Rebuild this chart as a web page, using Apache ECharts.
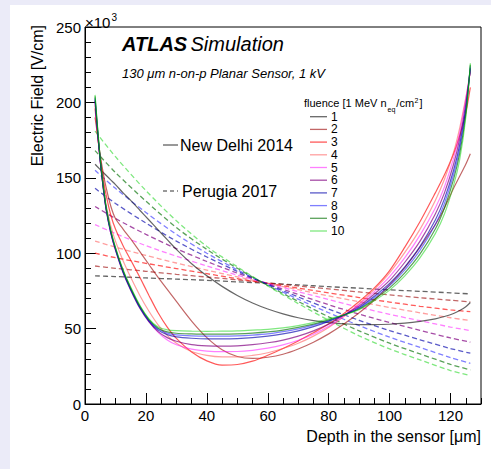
<!DOCTYPE html>
<html><head><meta charset="utf-8">
<script src="https://cdn.jsdelivr.net/npm/echarts@6/dist/echarts.min.js"></script>
<style>
html,body{margin:0;padding:0;background:#ebebf8;width:491px;height:469px;overflow:hidden}
#c{position:absolute;left:10px;top:5px;width:481px;height:464px;background:#fff}
</style></head>
<body><div id="c"></div>
<script>
// ---- data (x in um, E in 10^3 V/cm) ----
const solidX = [3.3, 4, 5, 6, 7, 8.5, 10, 12.5, 15, 18, 21, 24, 27, 30, 35, 40, 45, 50, 55, 60, 65, 70, 75, 80, 85, 90, 95, 100, 105, 110, 115, 118, 121, 123, 125, 126.5];
const delhi1  = [159, 157.5, 155.5, 153.5, 151.5, 148.5, 145.5, 140, 135, 128.5, 122, 115.5, 109, 102.5, 93, 85, 78, 72, 67, 63, 59.8, 57.2, 55.3, 54, 53.2, 52.7, 52.6, 52.9, 53.6, 54.8, 56.5, 58, 60, 62, 64.5, 67.3];
const delhi2  = [190, 180, 165, 153, 143, 131, 123, 116, 109.5, 101, 92.5, 84, 76, 68, 55, 44, 36, 31.5, 30.2, 31, 33, 36.5, 41, 46.5, 53, 60.5, 69, 79, 90.5, 104, 119, 130, 143, 151, 159, 166];
const delhi3  = [196, 181, 163, 149, 138, 125, 116, 105, 95.5, 84, 72, 60.5, 51, 43.5, 34.5, 28.6, 25.8, 26.2, 28.4, 32.3, 36.8, 41.8, 47.3, 53, 60, 68, 77, 88.5, 104, 121, 140, 152, 166, 178, 193, 210];
const delhi4  = [198, 182, 161, 144, 131, 118, 108, 95, 84, 72, 61.5, 52.5, 45.5, 40.3, 34.8, 32.2, 31.2, 31.2, 32.2, 34, 36.8, 40.3, 45, 50.8, 58, 66.5, 76, 87, 100.5, 116, 135, 149, 167, 183, 203, 220];
const delhi5  = [200, 183, 161, 143, 128.5, 113.5, 102.5, 88, 76.5, 64.5, 55, 47.5, 42.5, 39.3, 36.4, 35.1, 34.7, 34.8, 35.6, 37, 39.2, 42.3, 46.3, 51.5, 58.5, 66, 74.5, 84.5, 97, 112, 130, 144, 163, 180, 202, 221];
const delhi6  = [201, 183.5, 161, 143, 128, 113, 102, 87, 75.5, 63.5, 54.5, 48, 44, 41.6, 39.4, 38.6, 38.4, 38.6, 39.4, 40.6, 42.4, 45, 48.5, 53, 59, 65, 73, 82, 94, 108, 126, 140, 159, 176, 199, 222];
const delhi7  = [202, 184, 161.5, 143.5, 128.5, 113.5, 102.5, 87.5, 76, 64, 55, 49, 46, 44.5, 43.6, 43.2, 43.2, 43.4, 44, 45, 46.5, 48.5, 51.3, 54.8, 59, 64, 71.5, 80, 91, 104.5, 122, 136, 155, 172, 196, 223];
const delhi8  = [203, 185, 162, 144, 129, 114, 103, 88, 76.5, 64.5, 55.5, 49.7, 47, 45.9, 45.2, 45, 45, 45.2, 45.7, 46.5, 48, 49.8, 52.3, 55.3, 59, 63.5, 70.5, 78.5, 89, 102, 119, 133, 152, 169, 194, 224];
const delhi9  = [204, 186, 162.5, 144.5, 129.5, 114.5, 103.5, 88.5, 77, 65, 56, 50.3, 47.8, 46.9, 46.5, 46.3, 46.3, 46.5, 47, 47.8, 49, 50.8, 53, 55.8, 59, 63, 69.5, 77, 87, 99.5, 116, 130, 149, 166, 192, 225];
const delhi10 = [205, 187, 163, 145, 130, 115, 104, 89, 77.5, 65.5, 56.5, 51, 49.2, 48.6, 48.3, 48.2, 48.3, 48.5, 49, 49.5, 50.5, 52, 54, 56.5, 59, 62.5, 68.5, 75.5, 85, 97, 113, 126, 145, 162, 190, 226];

const perugiaX = [3.3, 10, 20, 30, 40, 50, 60, 70, 80, 90, 100, 110, 120, 126.5];
const perugia1  = [85, 84.5, 83.6, 82.8, 82, 81, 80, 79, 77.8, 76.8, 75.7, 74.7, 73.7, 73];
const perugia2  = [91.5, 90, 88, 86, 84.2, 82.3, 80.3, 78.3, 76.3, 74.3, 72.4, 70.5, 68.8, 67.7];
const perugia3  = [100, 97, 93.3, 89.8, 86.4, 83.1, 80, 76.8, 73.7, 70.6, 67.6, 64.8, 62.4, 61.3];
const perugia4  = [108, 104, 98.5, 93.5, 88.8, 84.3, 80, 75.8, 71.7, 67.8, 64, 60.5, 57.2, 55.3];
const perugia5  = [119, 113, 105, 98, 91.5, 85.5, 80, 74.5, 69.2, 64.2, 59.5, 55.2, 51, 48.7];
const perugia6  = [131, 123, 112.5, 103, 94.5, 86.8, 79.6, 72.6, 65.8, 59.6, 54, 48.8, 43.8, 41];
const perugia7  = [143, 133, 120, 108, 97.5, 88, 79.3, 71, 63, 55.5, 48.7, 42.6, 36.8, 33.7];
const perugia8  = [155, 143, 127, 112.5, 100, 89, 79, 69.5, 60.5, 52, 44.3, 37.5, 30.8, 27];
const perugia9  = [168, 153.5, 134.5, 117, 102.5, 90, 78.6, 68, 57.8, 48.5, 40.3, 33.2, 26.3, 22.6];
const perugia10 = [181, 164, 141.5, 121.5, 104.5, 91, 78.3, 66.6, 55.5, 45.2, 36.5, 29.2, 22.2, 18.8];

const fluenceLabels = ['1','2','3','4','5','6','7','8','9','10'];
const xTicks = [0, 20, 40, 60, 80, 100, 120];
const yTicks = [0, 50, 100, 150, 200, 250];

// ---- styles ----
const colors = ['rgba(0,0,0,0.6)','rgba(153,0,0,0.6)','rgba(255,0,0,0.65)','rgba(255,80,80,0.55)',
  'rgba(255,0,255,0.5)','rgba(128,0,128,0.7)','rgba(0,0,170,0.65)','rgba(0,0,255,0.5)',
  'rgba(0,110,0,0.65)','rgba(0,210,0,0.5)'];
const F = '"Liberation Sans", Arial, Helvetica, sans-serif';

const delhi = [delhi1,delhi2,delhi3,delhi4,delhi5,delhi6,delhi7,delhi8,delhi9,delhi10];
const perugia = [perugia1,perugia2,perugia3,perugia4,perugia5,perugia6,perugia7,perugia8,perugia9,perugia10];

const series = [];
perugia.forEach((vals, i) => {
  series.push({type:'line', name:'Perugia 2017 ' + fluenceLabels[i], data: perugiaX.map((x,j)=>[x, vals[j]]),
    smooth:0.3, showSymbol:false, silent:true, z:2,
    lineStyle:{color:colors[i], width:1.3, type:[5,3]}});
});
delhi.forEach((vals, i) => {
  series.push({type:'line', name:'New Delhi 2014 ' + fluenceLabels[i], data: solidX.map((x,j)=>[x, vals[j]]),
    smooth:0.3, showSymbol:false, silent:true, z:3,
    lineStyle:{color:colors[i], width:1.2}});
});

// text measuring for composite labels
const mctx = document.createElement('canvas').getContext('2d');
function tw(t, size){ mctx.font = size + 'px ' + F; return mctx.measureText(t).width; }

const graphic = [];
function txt(x, y, text, size, extra){
  return {type:'text', x:x, y:y, silent:true, style:Object.assign({text:text, fontSize:size, fontFamily:F, fill:'#000', verticalAlign:'middle', align:'left'}, extra||{})};
}
graphic.push({type:'text', x:112, y:39, silent:true, style:{text:'{a|ATLAS} {b|Simulation}', verticalAlign:'middle', fill:'#000',
  rich:{a:{fontSize:20, fontWeight:'bold', fontStyle:'italic', fontFamily:F, fill:'#000'}, b:{fontSize:20, fontStyle:'italic', fontFamily:F, fill:'#000'}}}});
graphic.push(txt(112, 68, '130 \u03bcm n-on-p Planar Sensor, 1 kV', 13, {fontStyle:'italic'}));
graphic.push(txt(75, 17.5, '\u00d710', 15));
graphic.push(txt(75 + tw('\u00d710', 15) + 1, 12, '3', 10));
graphic.push({type:'text', x:27.5, y:20, rotation:Math.PI/2, silent:true, style:{text:'Electric Field [V/cm]', fontSize:16, fontFamily:F, fill:'#000', align:'right', verticalAlign:'middle'}});
graphic.push(txt(471, 431, 'Depth in the sensor [\u03bcm]', 16, {align:'right'}));
// dataset legend
graphic.push({type:'line', silent:true, shape:{x1:153, y1:140, x2:168, y2:140}, style:{stroke:'#333', lineWidth:1}});
graphic.push(txt(170, 140, 'New Delhi 2014', 16));
graphic.push({type:'line', silent:true, shape:{x1:153, y1:186, x2:168, y2:186}, style:{stroke:'#333', lineWidth:1, lineDash:[4,3]}});
graphic.push(txt(172, 186, 'Perugia 2017', 16));
// fluence legend
let fx = 294, fy = 98;
const p1 = 'fluence [1 MeV n';
graphic.push(txt(fx, fy, p1, 11));
let cx = fx + tw(p1, 11) + 1;
graphic.push(txt(cx, fy + 6, 'eq', 7));
cx += tw('eq', 7) + 1;
graphic.push(txt(cx, fy, '/cm', 11));
cx += tw('/cm', 11);
graphic.push(txt(cx + 0.5, fy - 3, '2', 7));
cx += tw('2', 7) + 1.5;
graphic.push(txt(cx, fy, ']', 11));
fluenceLabels.forEach((lab, i) => {
  const y = 111.7 + i * 12.7;
  graphic.push({type:'line', silent:true, shape:{x1:300, y1:y, x2:317, y2:y}, style:{stroke:colors[i], lineWidth:1.3}});
  graphic.push(txt(321, y, lab, 12));
});

const chart = echarts.init(document.getElementById('c'), null, {renderer:'svg'});
const axisCommon = {
  axisLine:{show:true, onZero:false, lineStyle:{color:'#000', width:1}},
  splitLine:{show:false}, minorSplitLine:{show:false}
};
chart.setOption({
  animation:false,
  backgroundColor:'#fff',
  grid:{left:75, top:22, right:10, bottom:65, show:true, borderColor:'#000', borderWidth:1, backgroundColor:'transparent'},
  xAxis:[
    Object.assign({type:'value', min:xTicks[0], max:130, interval:xTicks[1]-xTicks[0],
      axisTick:{show:true, inside:true, length:11, lineStyle:{color:'#000'}},
      axisLabel:{color:'#000', fontSize:15, fontFamily:F, margin:4, showMaxLabel:false}}, axisCommon),
    Object.assign({type:'value', min:0, max:130, interval:5, position:'bottom',
      axisTick:{show:true, inside:true, length:6, lineStyle:{color:'#000'}},
      axisLabel:{show:false}}, axisCommon, {axisLine:{show:false}})
  ],
  yAxis:Object.assign({type:'value', min:yTicks[0], max:yTicks[yTicks.length-1], interval:yTicks[1]-yTicks[0],
    axisTick:{show:true, inside:true, length:11, lineStyle:{color:'#000'}},
    minorTick:{show:true, splitNumber:5, length:6, lineStyle:{color:'#000'}},
    axisLabel:{color:'#000', fontSize:15, fontFamily:F, margin:4}}, axisCommon),
  series:series,
  graphic:graphic
});
</script></body></html>
